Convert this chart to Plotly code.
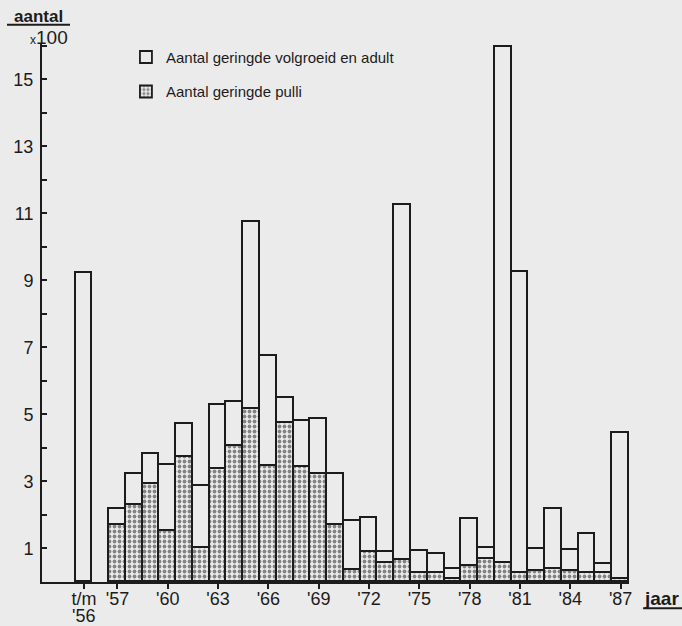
import plotly.graph_objects as go

# ---- data (aantal x 100) ----
categories = ["t/m '56"] + [f"'{y % 100:02d}" for y in range(1957, 1988)]
x_pos = [1955] + list(range(1957, 1988))
totaal = [9.22,
          2.19, 3.21, 3.82, 3.48, 4.70, 2.87, 5.27, 5.36, 10.75, 6.74,
          5.49, 4.80, 4.86, 3.21, 1.83, 1.90, 0.91, 11.24, 0.93, 0.85,
          0.38, 1.87, 1.01, 15.96, 9.24, 0.98, 2.19, 0.95, 1.44, 0.53,
          4.44]
pulli = [0.0,
         1.69, 2.29, 2.91, 1.52, 3.73, 1.01, 3.36, 4.05, 5.16, 3.47,
         4.74, 3.44, 3.22, 1.71, 0.36, 0.89, 0.56, 0.67, 0.27, 0.27,
         0.08, 0.47, 0.70, 0.57, 0.27, 0.33, 0.39, 0.32, 0.28, 0.27,
         0.10]
volgroeid = [t - p for t, p in zip(totaal, pulli)]

tick_vals = [1955, 1957, 1960, 1963, 1966, 1969, 1972, 1975, 1978, 1981, 1984, 1987]
tick_text = ["t/m", "'57", "'60", "'63", "'66", "'69", "'72", "'75", "'78", "'81", "'84", "'87"]
tick_text_line2 = "'56"   # second line under "t/m"
y_tick_vals = list(range(1, 17))
y_tick_text = [str(v) if v % 2 == 1 else "" for v in y_tick_vals]

BG = "#ebebeb"
INK = "#1c1c1c"
FONT = "Liberation Sans, Arial, sans-serif"

fig = go.Figure()
fig.add_trace(go.Bar(
    x=x_pos, y=pulli, name="Aantal geringde pulli",
    marker=dict(color=BG, line=dict(color=INK, width=1.8),
                pattern=dict(shape=".", fgcolor=INK, bgcolor=BG, size=5, solidity=0.45)),
    width=1, legendgroup="b", legendrank=2,
))
fig.add_trace(go.Bar(
    x=x_pos, y=volgroeid, name="Aantal geringde volgroeid en adult",
    marker=dict(color=BG, line=dict(color=INK, width=1.8)),
    width=1, legendgroup="a", legendrank=1,
))

fig.update_layout(
    width=682, height=626,
    margin=dict(l=42, r=53, t=44, b=44.3, autoexpand=False),
    paper_bgcolor=BG, plot_bgcolor=BG,
    barmode="stack", bargap=0,
    font=dict(family=FONT, color=INK, size=18),
    showlegend=True,
    legend=dict(x=0.143, y=1.006, xanchor="left", yanchor="top",
                bgcolor="rgba(0,0,0,0)", font=dict(size=15, color=INK),
                tracegroupgap=12, itemclick=False),
    xaxis=dict(range=[1952.5, 1987.5], tickmode="array", tickvals=tick_vals, ticktext=tick_text,
               showgrid=False, zeroline=False, showline=True, linecolor=INK, linewidth=2,
               ticks="outside", ticklen=5, tickwidth=1.5, tickcolor=INK, automargin=False,
               tickfont=dict(size=18, color=INK), ticklabelstandoff=-6),
    yaxis=dict(range=[0, 16.05], tickmode="array", tickvals=y_tick_vals, ticktext=y_tick_text,
               showgrid=False, zeroline=False, showline=True, linecolor=INK, linewidth=2,
               ticks="inside", ticklen=5, tickwidth=1.5, tickcolor=INK, automargin=False,
               tickfont=dict(size=18, color=INK), ticklabelstandoff=3),
)

# second line of the first category label
fig.add_annotation(xref="x", yref="paper", x=x_pos[0], y=-0.063, text=tick_text_line2,
                   showarrow=False, font=dict(size=18, color=INK), xanchor="center", yanchor="middle")

# axis titles
fig.add_annotation(xref="paper", yref="paper", x=-0.006, y=1.052, text="<b>aantal</b>",
                   showarrow=False, font=dict(size=17, color=INK), xanchor="center", yanchor="middle")
fig.add_shape(type="line", xref="paper", yref="paper", x0=-0.0596, x1=0.0477, y0=1.036, y1=1.036,
              line=dict(color=INK, width=2))
fig.add_annotation(xref="paper", yref="paper", x=0.0477, y=1.0125,
                   text="<span style='font-size:12px'>x</span>100",
                   showarrow=False, font=dict(size=19, color=INK), xanchor="right", yanchor="middle")
fig.add_annotation(xref="paper", yref="paper", x=1.022, y=-0.030, text="<b>jaar</b>",
                   showarrow=False, font=dict(size=19, color=INK), xanchor="left", yanchor="middle")
fig.add_shape(type="line", xref="paper", yref="paper", x0=1.024, x1=1.095, y0=-0.049, y1=-0.049,
              line=dict(color=INK, width=2))

fig.write_html(
    "out.html",
    config={"displayModeBar": False},
    post_script="document.body.style.margin='0';document.body.style.overflow='hidden';"
                "document.body.style.background='" + BG + "';",
)
